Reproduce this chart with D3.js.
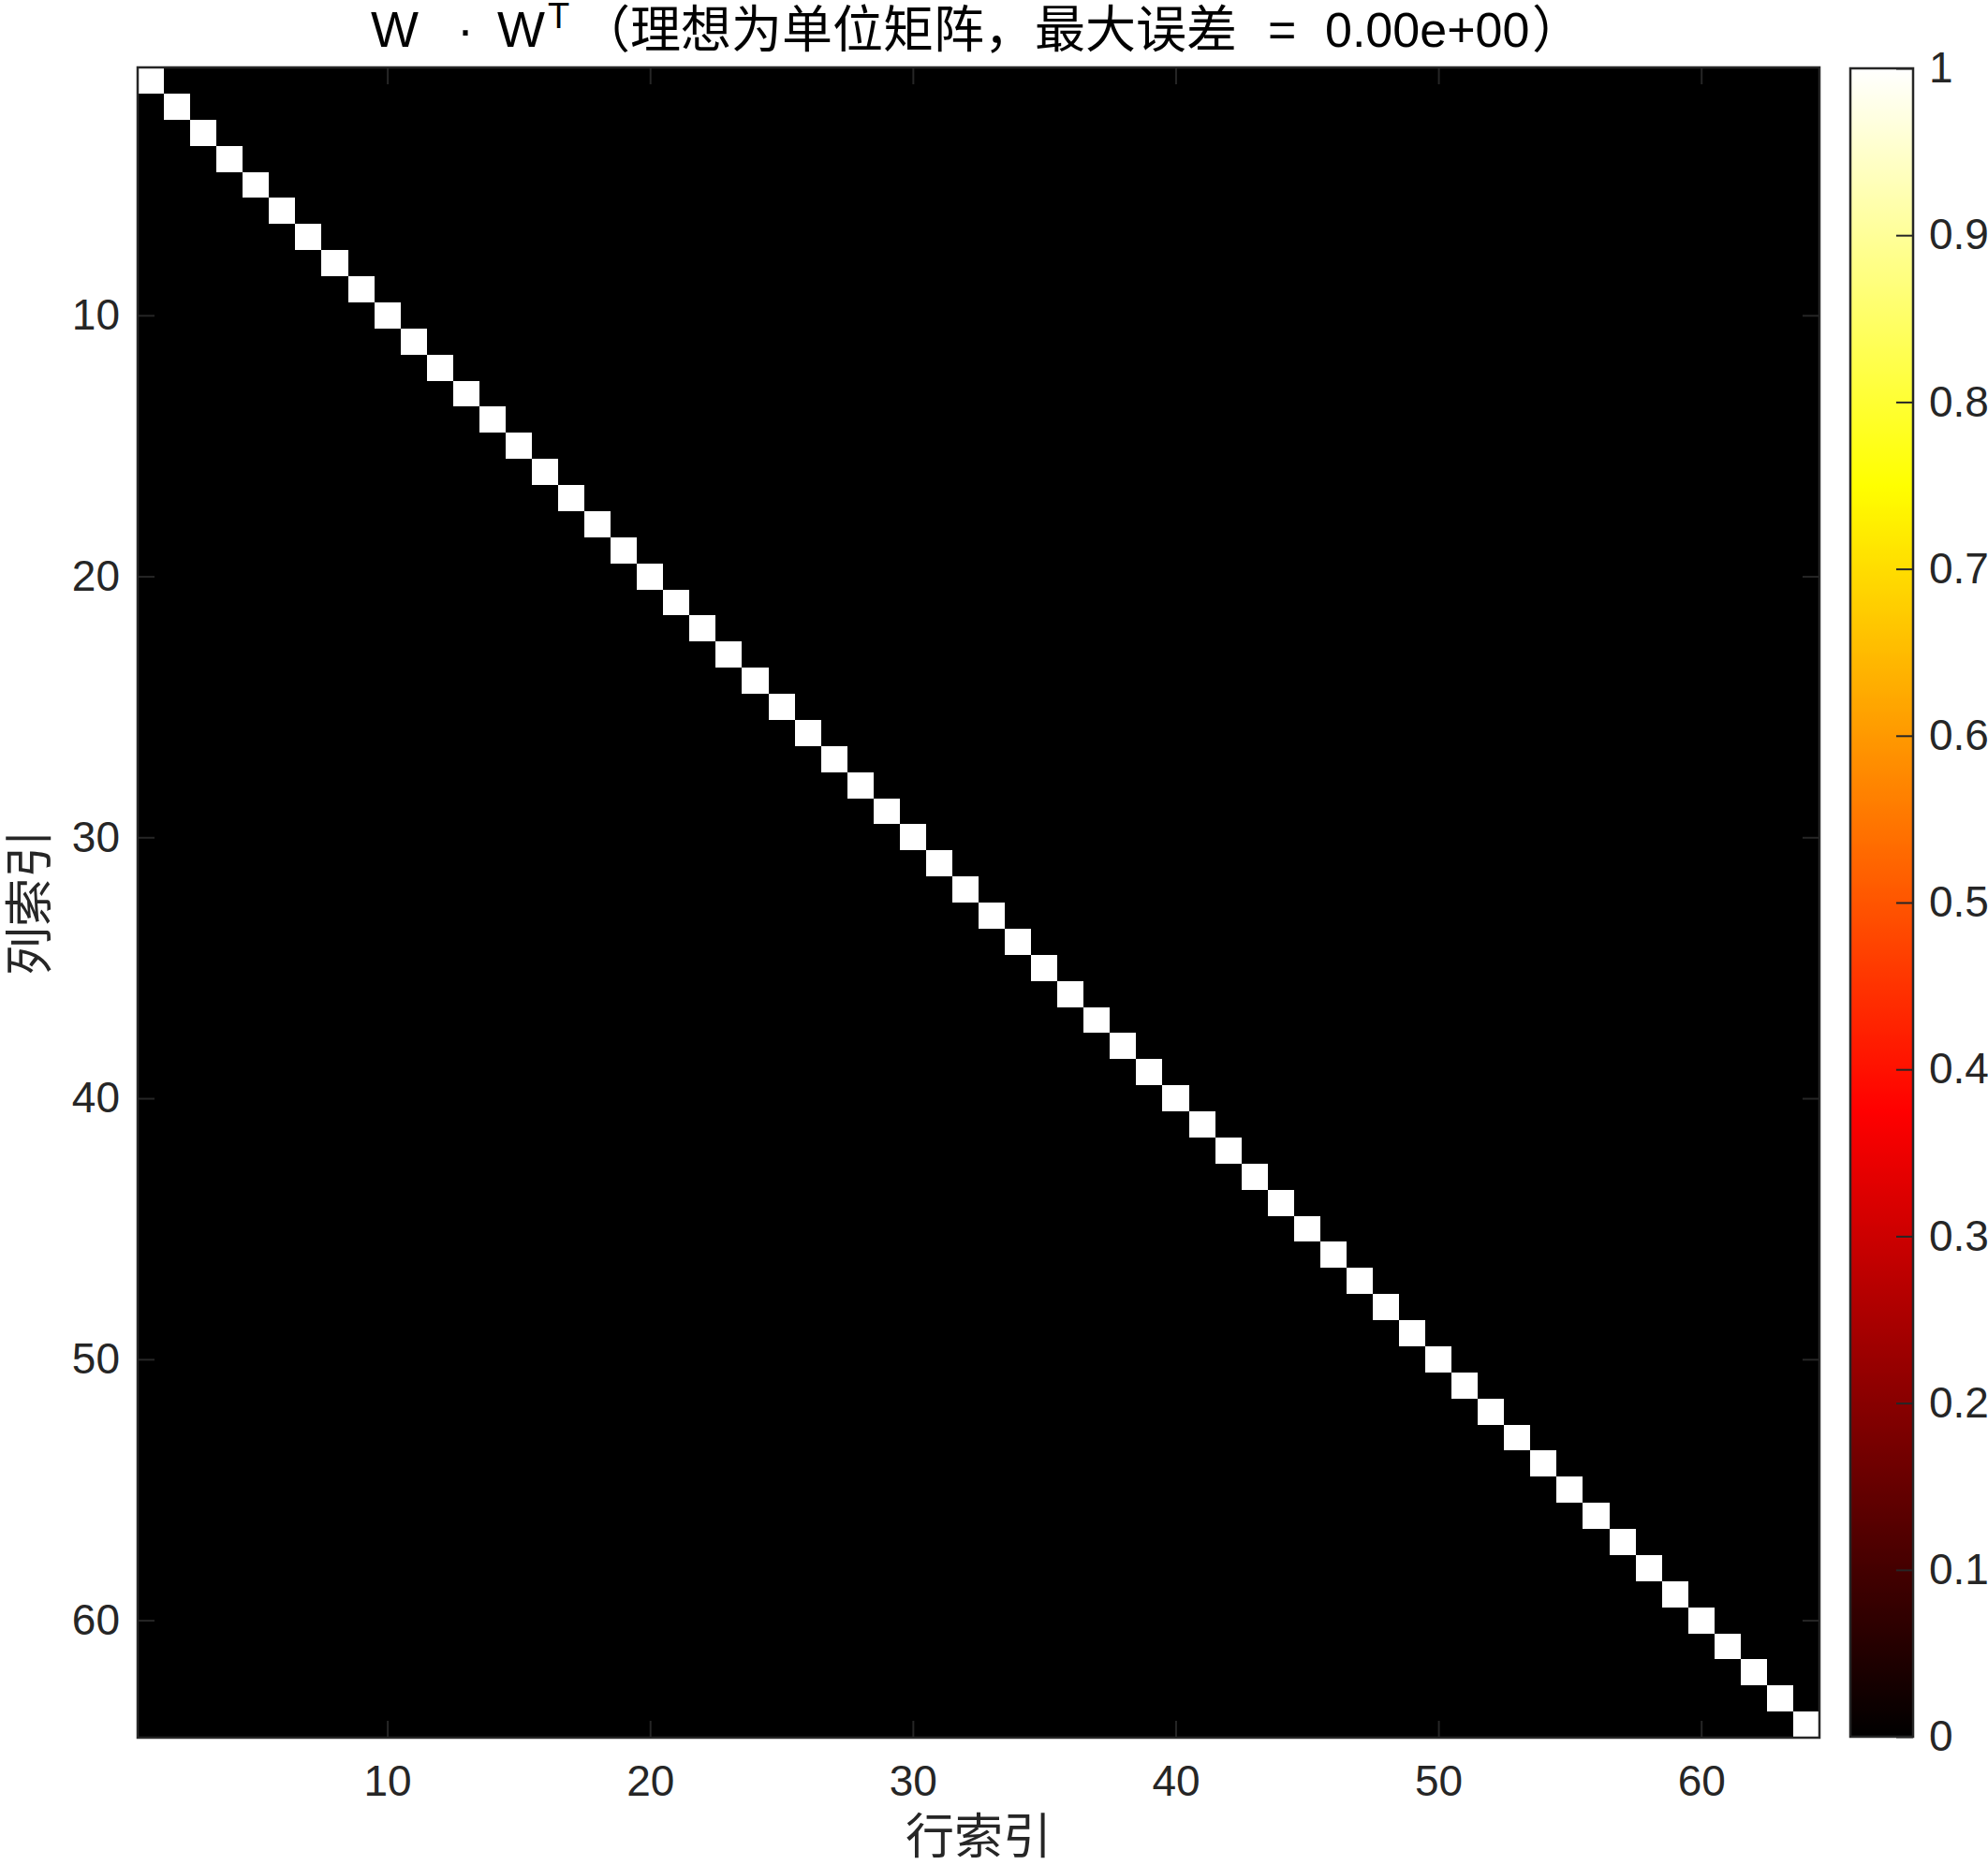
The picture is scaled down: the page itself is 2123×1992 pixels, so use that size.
<!DOCTYPE html>
<html>
<head>
<meta charset="utf-8">
<script src="https://cdn.jsdelivr.net/npm/d3@7"></script>
<style>
  html, body { margin: 0; padding: 0; background: #ffffff; }
  svg { display: block; }
</style>
</head>
<body>
<svg id="chart" width="2123" height="1992"></svg>
<script>
// ---------------- data ----------------
const matrixSize = 64;
const rowIndices = d3.range(1, matrixSize + 1);   // 行索引 1..64
const colIndices = d3.range(1, matrixSize + 1);   // 列索引 1..64
// diagonal of W·W^T (all exactly 1)
const diagonalValues = [
  1,1,1,1,1,1,1,1, 1,1,1,1,1,1,1,1,
  1,1,1,1,1,1,1,1, 1,1,1,1,1,1,1,1,
  1,1,1,1,1,1,1,1, 1,1,1,1,1,1,1,1,
  1,1,1,1,1,1,1,1, 1,1,1,1,1,1,1,1
];
const offDiagonalValue = 0;
const xTicks = [10, 20, 30, 40, 50, 60];
const yTicks = [10, 20, 30, 40, 50, 60];
const colorbarTicks = [0, 0.1, 0.2, 0.3, 0.4, 0.5, 0.6, 0.7, 0.8, 0.9, 1];
const colorbarTickLabels = ["0", "0.1", "0.2", "0.3", "0.4", "0.5", "0.6", "0.7", "0.8", "0.9", "1"];
const titleParts = ["W", "·", "W", "T", "（理想为单位矩阵，最大误差", "=", "0.00e+00", "）"];
const xLabel = "行索引";
const yLabel = "列索引";

// build cells
const cells = [];
rowIndices.forEach(r => colIndices.forEach(c => {
  cells.push({ row: r, col: c, value: r === c ? diagonalValues[r - 1] : offDiagonalValue });
}));

// ---------------- layout ----------------
const plot = { left: 147, top: 72, right: 1943, bottom: 1856 };
const cbar = { left: 1976, right: 2043, top: 73, bottom: 1855 };
const axisColor = "#262626";
const tickFont = "'Liberation Sans', Arial, Helvetica, sans-serif";
const cjkFont = "'Noto Sans CJK SC', sans-serif";

// MATLAB "hot" colormap
function hot(t) {
  t = Math.max(0, Math.min(1, t));
  const r = Math.min(1, t / 0.375);
  const g = Math.max(0, Math.min(1, (t - 0.375) / 0.375));
  const b = Math.max(0, Math.min(1, (t - 0.75) / 0.25));
  return d3.rgb(r * 255, g * 255, b * 255).formatHex();
}
const color = d3.scaleSequential(hot).domain([0, 1]);

const svg = d3.select("#chart");

// scales
const xBand = d3.scaleBand().domain(colIndices).range([plot.left, plot.right]).paddingInner(0).paddingOuter(0);
const yBand = d3.scaleBand().domain(rowIndices).range([plot.top, plot.bottom]).paddingInner(0).paddingOuter(0);
const xLin = d3.scaleLinear().domain([0.5, matrixSize + 0.5]).range([plot.left, plot.right]);
const yLin = d3.scaleLinear().domain([0.5, matrixSize + 0.5]).range([plot.top, plot.bottom]);
const cScale = d3.scaleLinear().domain([0, 1]).range([cbar.bottom, cbar.top]);

// heatmap cells
svg.append("g")
  .attr("shape-rendering", "crispEdges")
  .selectAll("rect")
  .data(cells)
  .join("rect")
  .attr("x", d => xBand(d.col))
  .attr("y", d => yBand(d.row))
  .attr("width", xBand.bandwidth() + 0.5)
  .attr("height", yBand.bandwidth() + 0.5)
  .attr("fill", d => color(d.value));

// axes with inward ticks
function styleAxis(g) {
  g.select(".domain").remove();
  g.selectAll(".tick line").attr("stroke", axisColor).attr("stroke-width", 2);
  g.selectAll(".tick text").attr("fill", axisColor).attr("font-family", tickFont).attr("font-size", 46);
}
svg.append("g").attr("transform", `translate(0,${plot.bottom})`)
  .call(d3.axisBottom(xLin).tickValues(xTicks).tickSize(-18).tickPadding(29)).call(styleAxis);
svg.append("g").attr("transform", `translate(0,${plot.top})`)
  .call(d3.axisTop(xLin).tickValues(xTicks).tickSize(-18).tickFormat("")).call(styleAxis);
svg.append("g").attr("transform", `translate(${plot.left},0)`)
  .call(d3.axisLeft(yLin).tickValues(yTicks).tickSize(-18).tickPadding(19)).call(styleAxis);
svg.append("g").attr("transform", `translate(${plot.right},0)`)
  .call(d3.axisRight(yLin).tickValues(yTicks).tickSize(-18).tickFormat("")).call(styleAxis);

// plot border
svg.append("rect")
  .attr("x", plot.left).attr("y", plot.top)
  .attr("width", plot.right - plot.left).attr("height", plot.bottom - plot.top)
  .attr("fill", "none").attr("stroke", axisColor).attr("stroke-width", 2.5);

// colorbar
const defs = svg.append("defs");
const grad = defs.append("linearGradient").attr("id", "hotgrad")
  .attr("x1", 0).attr("y1", 1).attr("x2", 0).attr("y2", 0);
d3.range(0, 257).forEach(i => {
  const t = i / 256;
  grad.append("stop").attr("offset", t).attr("stop-color", color(t));
});
svg.append("rect")
  .attr("x", cbar.left).attr("y", cbar.top)
  .attr("width", cbar.right - cbar.left).attr("height", cbar.bottom - cbar.top)
  .attr("fill", "url(#hotgrad)");
svg.append("g").attr("transform", `translate(${cbar.right},0)`)
  .call(d3.axisRight(cScale).tickValues(colorbarTicks).tickSize(-18).tickPadding(17)
    .tickFormat((d, i) => colorbarTickLabels[i]))
  .call(styleAxis);
svg.append("rect")
  .attr("x", cbar.left).attr("y", cbar.top)
  .attr("width", cbar.right - cbar.left).attr("height", cbar.bottom - cbar.top)
  .attr("fill", "none").attr("stroke", axisColor).attr("stroke-width", 2.5);

// title (mixed Latin / CJK segments)
const titleSpec = [
  { t: titleParts[0], x: 396, y: 50, f: tickFont, s: 54 },
  { t: titleParts[1], x: 488, y: 50, f: tickFont, s: 54 },
  { t: titleParts[2], x: 531, y: 50, f: tickFont, s: 54 },
  { t: titleParts[3], x: 585, y: 30, f: tickFont, s: 38 },
  { t: titleParts[4], x: 619, y: 51, f: cjkFont, s: 54 },
  { t: titleParts[5], x: 1354, y: 50, f: tickFont, s: 52 },
  { t: titleParts[6], x: 1415, y: 50, f: tickFont, s: 52 },
  { t: titleParts[7], x: 1636, y: 51, f: cjkFont, s: 54 }
];
const titleG = svg.append("g").attr("fill", "#000000");
titleSpec.forEach(p => {
  titleG.append("text")
    .attr("x", p.x).attr("y", p.y)
    .attr("font-family", p.f).attr("font-size", p.s)
    .text(p.t);
});

// axis labels
svg.append("text")
  .attr("x", (plot.left + plot.right) / 2).attr("y", 1980)
  .attr("text-anchor", "middle")
  .attr("font-family", cjkFont).attr("font-size", 52).attr("fill", axisColor)
  .text(xLabel);
svg.append("text")
  .attr("transform", `translate(50,${(plot.top + plot.bottom) / 2}) rotate(-90)`)
  .attr("text-anchor", "middle")
  .attr("font-family", cjkFont).attr("font-size", 52).attr("fill", axisColor)
  .text(yLabel);
</script>
</body>
</html>
